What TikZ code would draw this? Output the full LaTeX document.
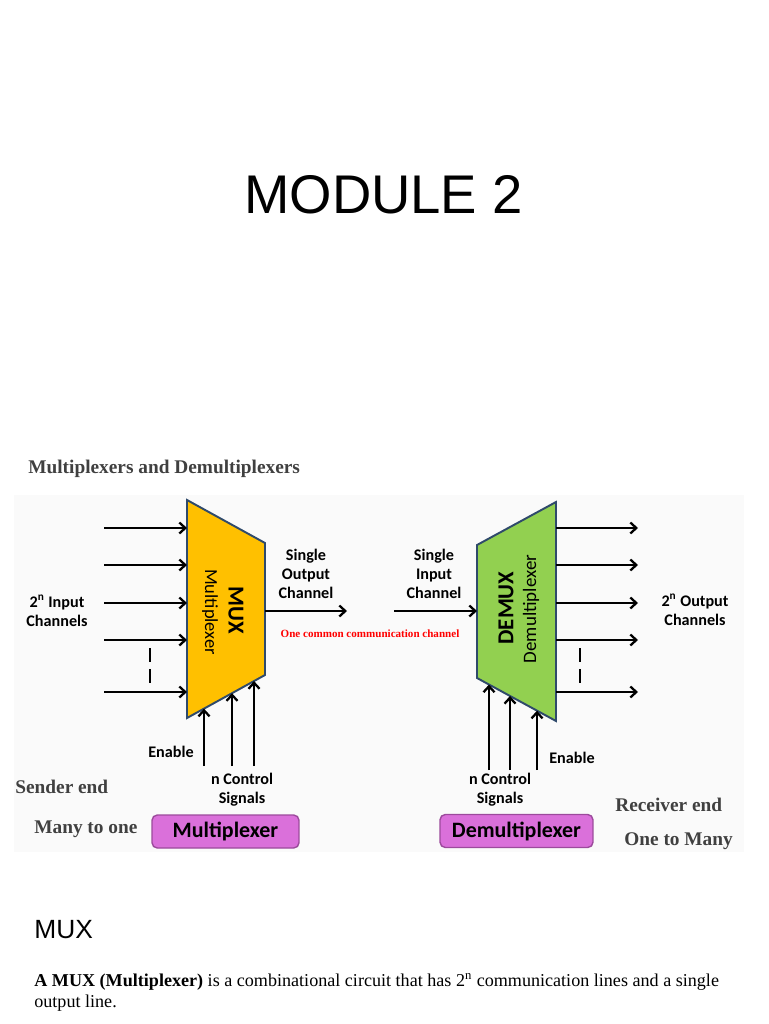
\documentclass[tikz,border=0pt]{standalone}
\usepackage{fontspec}
\setmainfont{Liberation Serif}
\newfontfamily\calibri{Carlito}
\newfontfamily\arial{Liberation Sans}
\usetikzlibrary{arrows.meta,calc,positioning}

\definecolor{muxfill}{HTML}{FFC000}
\definecolor{demuxfill}{HTML}{92D050}
\definecolor{blockedge}{HTML}{2F4A6B}
\definecolor{tagfill}{HTML}{DA70DA}
\definecolor{tagedge}{HTML}{9C4A9C}
\definecolor{greytext}{HTML}{404040}

\tikzset{
	sig/.style={line width=1.3pt, -{Straight Barb[length=1.2mm,width=2.2mm]}},
	lbl/.style={font=\calibri\bfseries\fontsize{9.2}{10.8}\selectfont, align=center, inner sep=0pt},
	side/.style={font=\bfseries\fontsize{11}{13}\selectfont, text=greytext, anchor=base west, inner sep=0pt},
	tag/.style={draw=tagedge, fill=tagfill, rounded corners=3pt, line width=0.8pt,
		minimum height=0.66cm, inner sep=0pt, font=\calibri\bfseries\fontsize{12.5}{14}\selectfont},
	block/.style={draw=blockedge, line width=1.1pt, line join=miter},
	gap/.style={line width=1.3pt, dash pattern=on 8pt off 4pt}
}

\begin{document}
\begin{tikzpicture}[x=0.02cm, y=-0.02cm]
	\useasboundingbox (0,0) rectangle (768,1024);

	% slide title
	\node (title) at (383.5,213) [anchor=base, inner sep=0pt, font=\arial\fontsize{31}{36}\selectfont] {MODULE 2};

	% picture area
	\fill[black!2] (14,495) rectangle (744,852);
	\node (head) at (28,473) [side] {Multiplexers and Demultiplexers};

	% the two blocks
	\coordinate (mtl) at (187,500);  \coordinate (mtr) at (265,543);
	\coordinate (mbr) at (265,675);  \coordinate (mbl) at (187,718);
	\coordinate (dtl) at (477,545);  \coordinate (dtr) at (556,502);
	\coordinate (dbr) at (556,721);  \coordinate (dbl) at (477,678);
	\draw[block, fill=muxfill] (mtl) -- (mtr) -- (mbr) -- (mbl) -- cycle;
	\draw[block, fill=demuxfill] (dtl) -- (dtr) -- (dbr) -- (dbl) -- cycle;

	\node (muxname) at (236,610) [rotate=-90, font=\calibri\bfseries\fontsize{13}{14}\selectfont] {MUX};
	\node (muxlong) at (210,612) [rotate=-90, font=\calibri\fontsize{10.5}{12}\selectfont] {Multiplexer};
	\node (demuxname) at (506,608) [rotate=90, font=\calibri\bfseries\fontsize{13}{14}\selectfont] {DEMUX};
	\node (demuxlong) at (531,609) [rotate=90, font=\calibri\fontsize{10.8}{12}\selectfont] {Demultiplexer};

	% inputs and outputs
	\foreach \y [count=\i] in {528,565,603,640,692} {
		\coordinate (src\i) at (104,\y);
		\coordinate (min\i) at (187,\y);
		\coordinate (dout\i) at (556,\y);
		\coordinate (dst\i) at (638,\y);
		\draw[sig] (src\i) -- (min\i);
		\draw[sig] (dout\i) -- (dst\i);
	}
	\coordinate (mgapa) at (150,648); \coordinate (mgapb) at (150,686);
	\coordinate (dgapa) at (580,648); \coordinate (dgapb) at (580,686);
	\draw[gap] (mgapa) -- (mgapb);
	\draw[gap] (dgapa) -- (dgapb);

	% the common channel
	\coordinate (mout) at (265,611); \coordinate (mend) at (347,611);
	\coordinate (dstart) at (394,611); \coordinate (din) at (477,611);
	\draw[sig] (mout) -- (mend);
	\draw[sig] (dstart) -- (din);

	% select and enable lines
	\coordinate (mbase) at (0,766);
	\coordinate (dbase) at (0,770);
	\foreach \t [count=\i] in {0.218,0.577,0.859} {
		\coordinate (mc\i) at ($(mbl)!\t!(mbr)$);
		\draw[sig] (mc\i |- mbase) -- (mc\i);
	}
	\foreach \t [count=\i] in {0.152,0.418,0.76} {
		\coordinate (dc\i) at ($(dbl)!\t!(dbr)$);
		\draw[sig] (dc\i |- dbase) -- (dc\i);
	}

	% labels
	\node (inlbl) at (57,611) [lbl] {2\textsuperscript{n} Input\\Channels};
	\node (outlbl) at (306,574) [lbl] {Single\\Output\\Channel};
	\node (dinlbl) at (434,574) [lbl] {Single\\Input\\Channel};
	\node (doutlbl) at (695,610) [lbl] {2\textsuperscript{n} Output\\Channels};
	\node (men) at (171,752) [lbl] {Enable};
	\node (den) at (572,758) [lbl] {Enable};
	\node (mctl) at (242,790) [lbl] {n Control\\Signals};
	\node (dctl) at (500,790) [lbl] {n Control\\Signals};
	\node (common) at (370,634) [inner sep=0pt, text=red, font=\bfseries\fontsize{6.3}{7}\selectfont] {One common communication channel};

	% name tags
	\node (muxtag) at (225.5,831.5) [tag, minimum width=2.94cm] {Multiplexer};
	\node (demuxtag) at (516.5,831) [tag, minimum width=3.06cm] {Demultiplexer};

	\node (sender) at (15,793) [side] {Sender end};
	\node (many) at (34,833) [side] {Many to one};
	\node (receiver) at (615,811) [side] {Receiver end};
	\node (one) at (624,845) [side] {One to Many};

	% text below the picture
	\node (sub) at (34,938) [anchor=base west, inner sep=0pt, font=\arial\fontsize{15}{18}\selectfont] {MUX};
	\node (body) at (34,1007) [anchor=base west, inner sep=0pt, align=left, font=\fontsize{10.3}{11.8}\selectfont]
		{\textbf{A MUX (Multiplexer)} is a combinational circuit that has 2\textsuperscript{n} communication lines and a single\\output line.};
\end{tikzpicture}
\end{document}
